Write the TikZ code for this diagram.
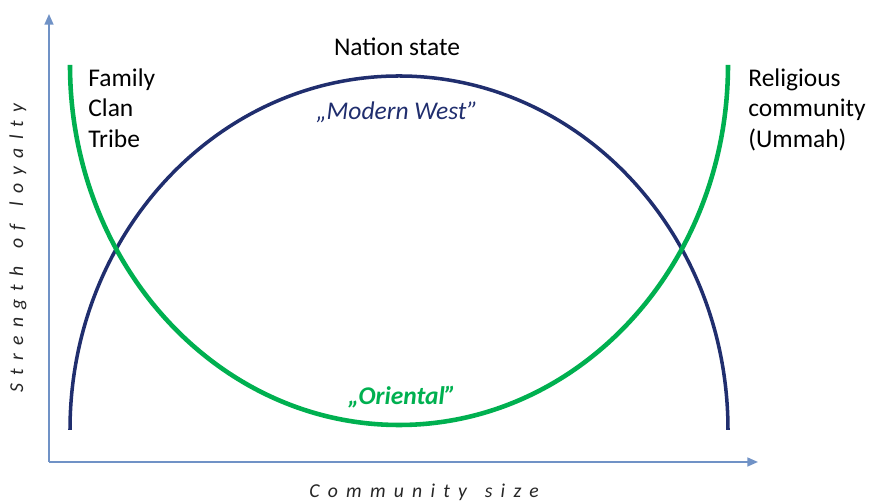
\documentclass[tikz,border=0pt]{standalone}
\usepackage{fontspec}
\setmainfont{Carlito}
\newfontfamily\spacedfont[LetterSpace=42,WordSpace=1.4]{Carlito}
\usetikzlibrary{positioning}
\usetikzlibrary{arrows.meta}

\definecolor{westblue}{RGB}{32,46,110}
\definecolor{orientgreen}{RGB}{0,176,80}
\definecolor{axisblue}{RGB}{112,146,198}

\tikzset{
    axis/.style={axisblue, line width=1pt, -{Triangle[length=6pt,width=5pt]}},
    axislabel/.style={inner sep=0pt, text=black!85, font=\spacedfont\fontsize{11.2}{12}\selectfont\itshape},
    label/.style={inner sep=0pt, align=left, anchor=north west}
}

\begin{document}
\begin{tikzpicture}[x=0.02cm, y=0.02cm, font=\fontsize{14.5}{17.6}\selectfont]
    \useasboundingbox (0,0) rectangle (870,502);

    % axes
    \coordinate(O) at (49,40);
    \coordinate(Ytop) at (49,488);
    \coordinate(Xend) at (758,40);
    \draw[axis] (O) -- (Ytop);
    \draw[axis] (O) -- (Xend);

    \node(xlab)[axislabel] at (424,10) {Community size};
    \node(ylab)[axislabel, rotate=90] at (18,254) {Strength of loyalty};

    % the two loyalty curves
    \draw[westblue, line width=2pt] (70,72) arc[start angle=180, end angle=0, x radius=329, y radius=354];
    \draw[orientgreen, line width=2.6pt] (70,437) arc[start angle=180, end angle=360, x radius=329, y radius=360];

    % texts
    \node(nation)[inner sep=0pt] at (397,455) {Nation state};
    \node(west)[inner sep=0pt, westblue, font=\fontsize{14.5}{17.6}\selectfont\itshape, below=0.9cm of nation] {„Modern West”};
    \node(oriental)[inner sep=0pt, orientgreen, font=\fontsize{14.5}{17.6}\selectfont\bfseries\itshape] at (402,105) {„Oriental”};

    \node(family)[label] at (88,434) {Family\\Clan\\Tribe};
    \node(religion)[label] at (748,434) {Religious\\community\\(Ummah)};

\end{tikzpicture}
\end{document}
